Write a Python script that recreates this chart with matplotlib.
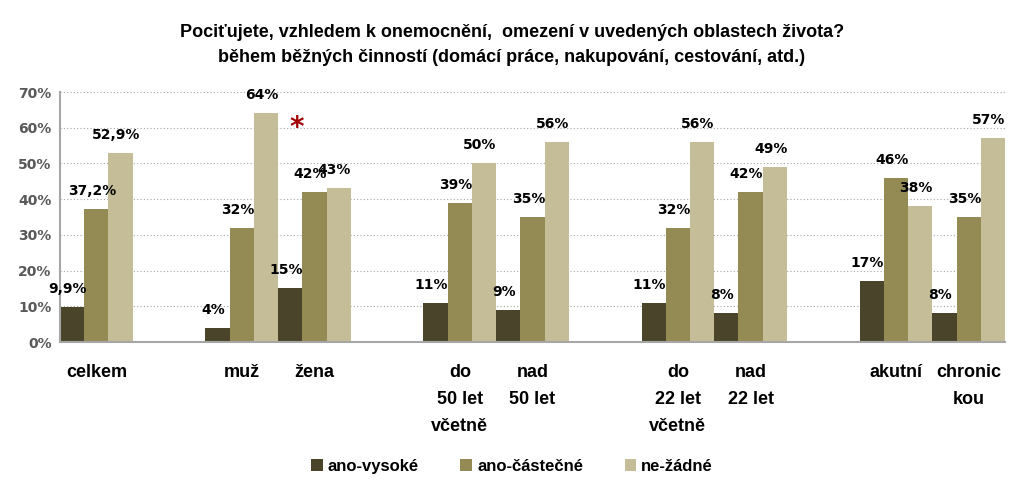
import matplotlib.pyplot as plt
import numpy as np

categories = ['celkem', 'muž', 'žena', 'do\n50 let\nvčetně', 'nad\n50 let',
              'do\n22 let\nvčetně', 'nad\n22 let', 'akutní', 'chronic\nkou']
slots = [0, 2, 3, 5, 6, 8, 9, 11, 12]
series = ['ano-vysoké', 'ano-částečné', 'ne-žádné']
vysoke = [9.9, 4, 15, 11, 9, 11, 8, 17, 8]
castecne = [37.2, 32, 42, 39, 35, 32, 42, 46, 35]
zadne = [52.9, 64, 43, 50, 56, 56, 49, 38, 57]
labels_vysoke = ['9,9%', '4%', '15%', '11%', '9%', '11%', '8%', '17%', '8%']
labels_castecne = ['37,2%', '32%', '42%', '39%', '35%', '32%', '42%', '46%', '35%']
labels_zadne = ['52,9%', '64%', '43%', '50%', '56%', '56%', '49%', '38%', '57%']
colors = ['#4a452a', '#948a54', '#c4bd97']

narrow = ['Liberation Sans', 'DejaVu Sans']

fig = plt.figure(figsize=(10.24, 4.96), dpi=100)
ax = fig.add_axes([60/1024, (496-342)/496, 945/1024, 250/496])

x = np.array(slots, dtype=float)
w = 1/3
data = [vysoke, castecne, zadne]
labs = [labels_vysoke, labels_castecne, labels_zadne]
for i, (vals, lab, c, name) in enumerate(zip(data, labs, colors, series)):
    pos = x + (i - 1) * w
    ax.bar(pos, vals, width=w, color=c, label=name, zorder=2)
    for p, v, t in zip(pos, vals, lab):
        ax.annotate(t, (p, v), xytext=(-3, 8), textcoords='offset points',
                    ha='center', va='bottom', fontsize=10, fontweight='bold',
                    family='DejaVu Sans', color='black', zorder=3)

ax.text(2.76, 60, '*', color='#a00000', fontsize=20, fontweight='bold',
        ha='center', va='center')

ax.set_xlim(-0.5, 12.5)
ax.set_ylim(0, 70)
ax.set_yticks(range(0, 71, 10))
ax.set_yticklabels([f'{v}%' for v in range(0, 71, 10)], fontsize=10,
                   fontweight='bold', color='#595959', family='DejaVu Sans')
ax.set_xticks(slots)
ax.set_xticklabels(categories, fontsize=13, fontweight='bold', family=narrow,
                   va='top', linespacing=1.75)
ax.tick_params(axis='x', length=0, pad=16)
ax.tick_params(axis='y', length=0, pad=6)
ax.yaxis.grid(True, linestyle=(0, (1, 2)), color='#a6a6a6', linewidth=0.8, zorder=0)
for s in ['top', 'right']:
    ax.spines[s].set_visible(False)
for s in ['left', 'bottom']:
    ax.spines[s].set_color('#a6a6a6')
    ax.spines[s].set_linewidth(1.5)

fig.text(0.5, 0.935, 'Pociťujete, vzhledem k onemocnění,  omezení v uvedených oblastech života?',
         ha='center', va='center', fontsize=13, fontweight='bold', family=narrow)
fig.text(0.5, 0.885, 'během běžných činností (domácí práce, nakupování, cestování, atd.)',
         ha='center', va='center', fontsize=13, fontweight='bold', family=narrow)

fig.legend(loc='center', bbox_to_anchor=(0.5, 0.06), ncol=3, frameon=False,
           prop={'family': narrow, 'size': 12, 'weight': 'bold'},
           handlelength=0.7, handleheight=0.7, handletextpad=0.3, columnspacing=2.5)

fig.savefig('out.png', dpi=100)
